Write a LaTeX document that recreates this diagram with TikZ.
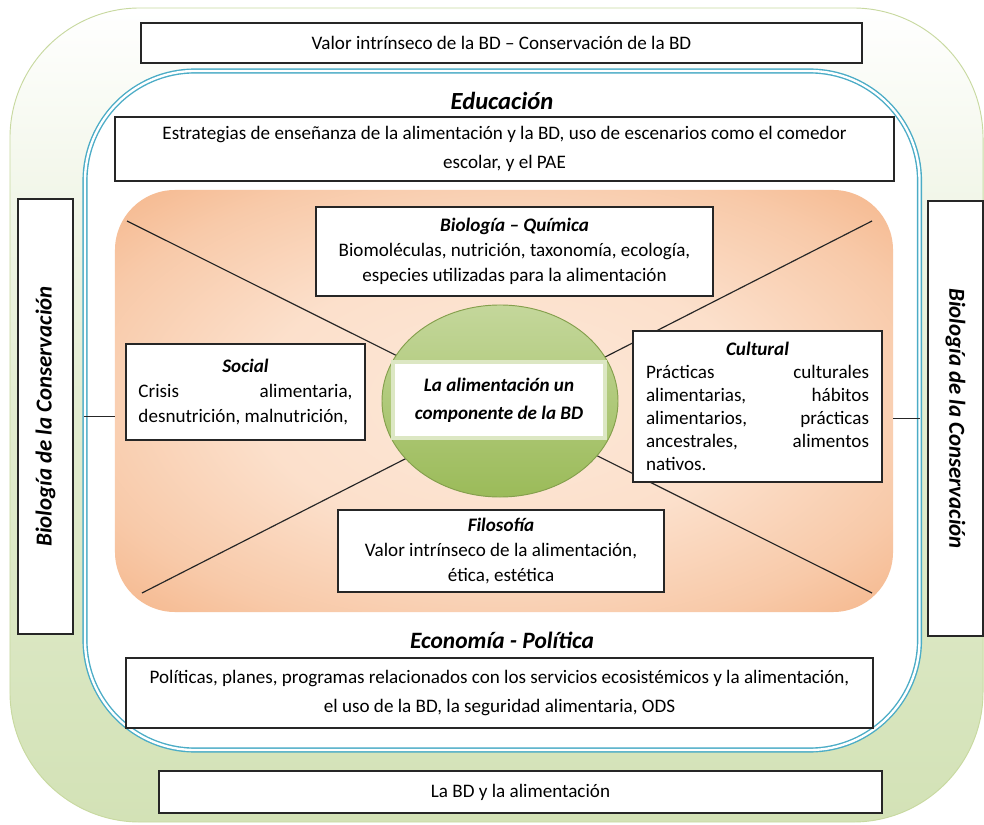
\documentclass[tikz,border=0pt]{standalone}
\usepackage{fontspec}
\setmainfont{Carlito}
\usetikzlibrary{shapes.geometric}
\definecolor{leaf}{RGB}{211,226,182}
\definecolor{leafline}{RGB}{200,217,160}
\definecolor{frameblue}{RGB}{75,172,198}
\definecolor{peach}{RGB}{253,232,216}
\definecolor{peachdark}{RGB}{244,177,131}
\definecolor{olive}{RGB}{155,187,89}
\definecolor{olivelight}{RGB}{196,215,155}
\definecolor{boxline}{RGB}{38,38,38}
\pgfdeclareradialshading{glow}{\pgfpoint{0bp}{0bp}}{color(0bp)=(peach); color(16bp)=(peach!85!peachdark); color(28bp)=(peach!45!peachdark); color(38bp)=(peachdark); color(50bp)=(peachdark)}
\tikzset{
  box/.style={draw=boxline, fill=white, line width=1.1pt, align=center, inner sep=2pt, font=\fontsize{16.3}{21.5}\selectfont},
  head/.style={font=\fontsize{20}{22}\selectfont\bfseries\itshape},
  side/.style={box, font=\fontsize{19.5}{21}\selectfont\bfseries\itshape, minimum width=13.05cm, minimum height=1.65cm},
  wide/.style={box, font=\fontsize{16.3}{24.5}\selectfont}
}
\begin{document}
\begin{tikzpicture}[x=0.03cm, y=-0.03cm]
  \useasboundingbox (0,0) rectangle (984,825);
  \node (outer) at (496.5,415) [draw=leafline, line width=0.8pt, rounded corners=3.9cm,
    top color=white, bottom color=leaf, middle color=leaf!65, minimum width=29.19cm, minimum height=24.42cm] {};
  \node (valor) at (501.5,43) [box, minimum width=21.63cm, minimum height=1.2cm]
    {Valor intrínseco de la BD – Conservación de la BD};
  \node (pie) at (520.5,792) [box, minimum width=21.69cm, minimum height=1.26cm]
    {La BD y la alimentación};
  \node (izq) at (45.5,416.5) [side, rotate=90] {Biología de la Conservación};
  \node (der) at (955.5,418.5) [side, rotate=-90] {Biología de la Conservación};
  \node (frame) at (502.25,410.5) [draw=frameblue, double=white, line width=1.2pt, double distance=2pt,
    fill=white, rounded corners=3.3cm, minimum width=25.035cm, minimum height=20.37cm] {};
  \node (educ) at (502,101) [head, font=\fontsize{21}{23}\selectfont\bfseries\itshape] {Educación};
  \node (edu) at (504.5,149) [wide, minimum width=23.37cm, minimum height=1.92cm]
    {Estrategias de enseñanza de la alimentación y la BD, uso de escenarios como el comedor\\ escolar, y el PAE};
  \node (econ) at (502,640) [head] {Economía - Política};
  \node (pol) at (499.5,693) [wide, minimum width=22.41cm, minimum height=2.1cm]
    {Políticas, planes, programas relacionados con los servicios ecosistémicos y la alimentación,\\ el uso de la BD, la seguridad alimentaria, ODS};
  \node (field) at (504,401) [shading=glow, rounded corners=1.8cm, minimum width=23.34cm, minimum height=12.66cm] {};
  \coordinate (d1) at (127,221);
  \coordinate (d2) at (872,593);
  \coordinate (d3) at (872,221);
  \coordinate (d4) at (142,593);
  \draw[boxline, line width=1pt] (d1) -- (d2) (d3) -- (d4);
  \node (core) at (500,401) [ellipse, draw=olive!85!black, line width=0.8pt, top color=olivelight, bottom color=olive,
    minimum width=7.08cm, minimum height=5.76cm] {};
  \node (tema) at (499,400) [box, draw=olivelight!60!white, line width=3pt, minimum width=6.36cm, minimum height=2.28cm,
    font=\fontsize{16.3}{24}\selectfont\bfseries\itshape] {La alimentación un\\ componente de la BD};
  \node (bio) at (514.5,251.5) [box, minimum width=11.91cm, minimum height=2.67cm]
    {\textbf{\textit{Biología – Química}}\\ Biomoléculas, nutrición, taxonomía, ecología,\\ especies utilizadas para la alimentación};
  \node (social) at (245.5,392) [box, align=justify, text width=6.42cm, minimum width=7.17cm, minimum height=2.88cm]
    {{\centering\textbf{\textit{Social}}\par}Crisis alimentaria,\linebreak desnutrición, malnutrición,};
  \node (cultural) at (757.5,406.5) [box, align=justify, text width=6.69cm, minimum width=7.47cm, minimum height=4.53cm,
    font=\fontsize{16.3}{19.6}\selectfont]
    {{\centering\textbf{\textit{Cultural}}\par}Prácticas culturales\linebreak alimentarias, hábitos\linebreak alimentarios, prácticas\linebreak ancestrales, alimentos\linebreak nativos.};
  \node (filo) at (501,551) [box, minimum width=9.78cm, minimum height=2.46cm]
    {\textbf{\textit{Filosofía}}\\ Valor intrínseco de la alimentación,\\ ética, estética};
  \draw[boxline, line width=1pt] (frame.west |- izq) -- (field.west |- izq);
  \draw[boxline, line width=1pt] (field.east |- der) -- (frame.east |- der);
\end{tikzpicture}
\end{document}
